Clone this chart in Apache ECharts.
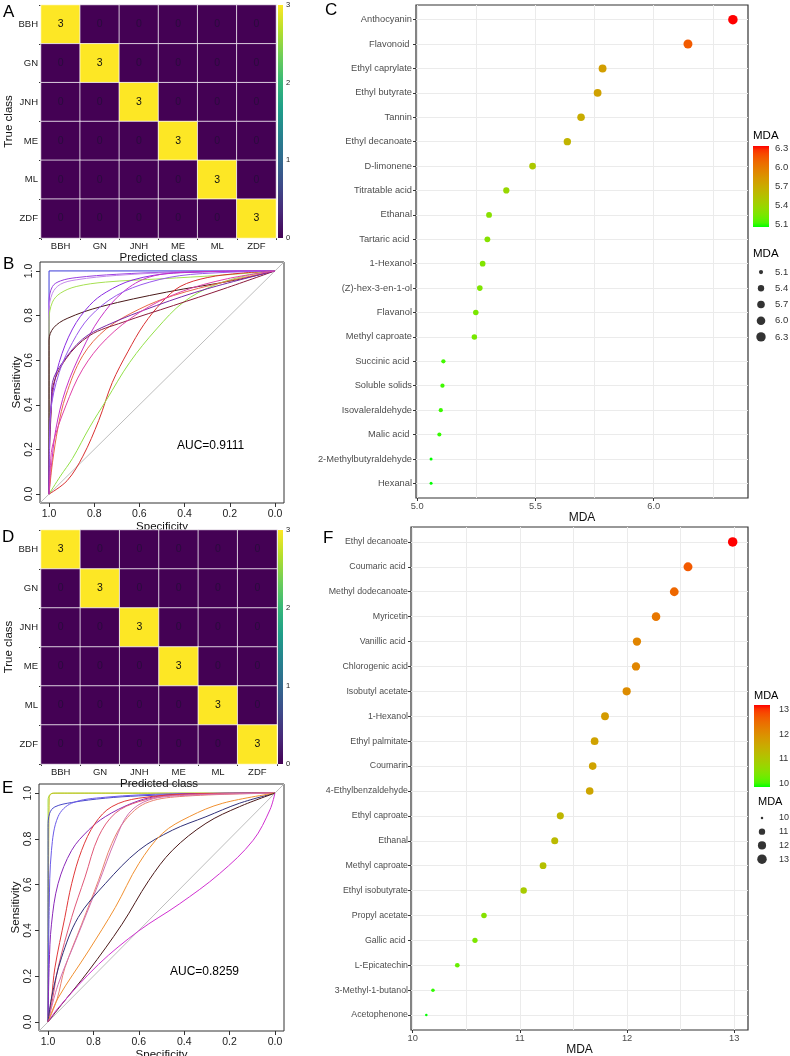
<!DOCTYPE html>
<html><head><meta charset="utf-8">
<script src="https://cdn.jsdelivr.net/npm/echarts@6/dist/echarts.min.js"></script>
<style>html,body{margin:0;padding:0;background:#fff}#c{width:790px;height:1056px}</style>
</head><body><div id="c"></div><script>
// ---------- DATA ----------
const classes = ['BBH','GN','JNH','ME','ML','ZDF'];
const confA = [[3,0,0,0,0,0],[0,3,0,0,0,0],[0,0,3,0,0,0],[0,0,0,3,0,0],[0,0,0,0,3,0],[0,0,0,0,0,3]];
const confD = [[3,0,0,0,0,0],[0,3,0,0,0,0],[0,0,3,0,0,0],[0,0,0,3,0,0],[0,0,0,0,3,0],[0,0,0,0,0,3]];
const heatTicks = [0,1,2,3];
const rocTicks = [0,0.2,0.4,0.6,0.8,1.0];
const aucB = 'AUC=0.9111';
const aucE = 'AUC=0.8259';

// ROC curves, points as [specificity, sensitivity]
const rocB = [
  [[1,0],[1,1],[0,1]],
  [[1,0],[1,0.86],[0.985,0.93],[0.95,0.955],[0.88,0.97],[0.7,0.985],[0.45,0.995],[0,1]],
  [[1,0],[1,0.82],[0.985,0.9],[0.95,0.94],[0.88,0.96],[0.7,0.98],[0.4,0.995],[0,1]],
  [[1,0],[1,0.78],[0.985,0.86],[0.95,0.9],[0.88,0.93],[0.75,0.95],[0.5,0.965],[0.25,0.98],[0,1]],
  [[1,0],[1,0.69],[0.98,0.745],[0.92,0.787],[0.77,0.84],[0.48,0.905],[0.18,0.958],[0,1]],
  [[1,0],[0.995,0.3],[0.985,0.44],[0.955,0.59],[0.896,0.74],[0.821,0.845],[0.747,0.905],[0.628,0.96],[0.449,0.99],[0,1]],
  [[1,0],[0.99,0.12],[0.97,0.29],[0.926,0.47],[0.851,0.65],[0.777,0.785],[0.673,0.905],[0.554,0.973],[0.375,0.995],[0,1]],
  [[1,0],[0.92,0.06],[0.85,0.17],[0.78,0.33],[0.72,0.5],[0.65,0.64],[0.58,0.76],[0.5,0.86],[0.42,0.93],[0.3,0.97],[0.15,0.99],[0,1]],
  [[1,0],[0.95,0.08],[0.896,0.16],[0.82,0.3],[0.747,0.42],[0.643,0.59],[0.524,0.74],[0.405,0.86],[0.271,0.935],[0.122,0.98],[0,1]],
  [[1,0],[0.995,0.05],[0.985,0.14],[0.96,0.3],[0.926,0.44],[0.851,0.62],[0.747,0.74],[0.598,0.83],[0.449,0.89],[0.226,0.95],[0,1]],
  [[1,0],[0.998,0.2],[0.99,0.38],[0.985,0.47],[0.926,0.605],[0.821,0.71],[0.673,0.77],[0.449,0.845],[0.226,0.92],[0,1]],
  [[1,0],[0.998,0.25],[0.99,0.42],[0.985,0.5],[0.94,0.59],[0.851,0.695],[0.747,0.755],[0.524,0.845],[0.3,0.92],[0,1]],
  [[1,0],[0.998,0.2],[0.993,0.365],[0.955,0.545],[0.896,0.68],[0.821,0.793],[0.702,0.89],[0.554,0.95],[0.375,0.984],[0,1]],
  [[1,0],[0.995,0.1],[0.985,0.215],[0.926,0.395],[0.851,0.56],[0.747,0.695],[0.598,0.815],[0.42,0.905],[0.211,0.965],[0,1]]
];
const rocE = [
  [[1,0],[1,0.97],[0.99,0.995],[0.96,1],[0,1]],
  [[1,0],[0.995,0.98],[0.98,1],[0,1]],
  [[1,0],[1,0.85],[0.993,0.912],[0.97,0.94],[0.896,0.959],[0.748,0.978],[0.6,0.988],[0.3,0.998],[0,1]],
  [[1,0],[0.995,0.5],[0.985,0.75],[0.956,0.897],[0.896,0.956],[0.748,0.982],[0.45,0.997],[0,1]],
  [[1,0],[0.995,0.25],[0.985,0.427],[0.956,0.604],[0.896,0.75],[0.822,0.838],[0.748,0.897],[0.63,0.956],[0.526,0.985],[0.35,0.998],[0,1]],
  [[1,0],[0.985,0.1],[0.97,0.236],[0.926,0.457],[0.896,0.604],[0.852,0.75],[0.793,0.868],[0.719,0.941],[0.6,0.978],[0.35,0.997],[0,1]],
  [[1,0],[0.98,0.1],[0.956,0.236],[0.896,0.457],[0.837,0.633],[0.778,0.809],[0.704,0.912],[0.6,0.963],[0.45,0.99],[0,1]],
  [[1,0],[0.96,0.1],[0.926,0.236],[0.852,0.427],[0.778,0.618],[0.719,0.78],[0.659,0.883],[0.57,0.956],[0.422,0.985],[0,1]],
  [[1,0],[0.956,0.163],[0.867,0.383],[0.778,0.604],[0.704,0.795],[0.644,0.912],[0.556,0.97],[0.4,0.99],[0,1]],
  [[1,0],[0.985,0.104],[0.941,0.28],[0.867,0.457],[0.748,0.604],[0.6,0.75],[0.452,0.838],[0.304,0.897],[0.156,0.956],[0,1]],
  [[1,0],[0.956,0.104],[0.822,0.31],[0.704,0.5],[0.6,0.692],[0.496,0.824],[0.378,0.897],[0.23,0.956],[0,1]],
  [[1,0],[0.941,0.075],[0.822,0.222],[0.674,0.427],[0.556,0.618],[0.452,0.75],[0.304,0.868],[0.156,0.941],[0,1]],
  [[1,0],[0.956,0.06],[0.778,0.251],[0.6,0.398],[0.422,0.515],[0.244,0.648],[0.096,0.794],[0.022,0.927],[0,1]]
];

const namesC = ['Anthocyanin','Flavonoid ','Ethyl caprylate','Ethyl butyrate','Tannin','Ethyl decanoate','D-limonene','Titratable acid','Ethanal','Tartaric acid ','1-Hexanol','(Z)-hex-3-en-1-ol','Flavanol','Methyl caproate','Succinic acid ','Soluble solids','Isovaleraldehyde','Malic acid ','2-Methylbutyraldehyde','Hexanal'];
const mdaC = [6.335,6.145,5.784,5.763,5.693,5.635,5.488,5.377,5.304,5.297,5.277,5.265,5.248,5.242,5.111,5.107,5.100,5.094,5.059,5.059];
const xTicksC = [5.0,5.5,6.0];
const gridXC = [5.0,5.25,5.5,5.75,6.0,6.25];
const legendBreaksC = [5.1,5.4,5.7,6.0,6.3];

const namesF = ['Ethyl decanoate','Coumaric acid ','Methyl dodecanoate','Myricetin','Vanillic acid ','Chlorogenic acid','Isobutyl acetate','1-Hexanol','Ethyl palmitate','Coumarin','4-Ethylbenzaldehyde','Ethyl caproate','Ethanal','Methyl caproate','Ethyl isobutyrate','Propyl acetate','Gallic acid ','L-Epicatechin','3-Methyl-1-butanol','Acetophenone'];
const mdaF = [12.985,12.568,12.44,12.27,12.092,12.083,11.996,11.794,11.697,11.679,11.651,11.377,11.325,11.216,11.035,10.665,10.581,10.416,10.189,10.127];
const xTicksF = [10,11,12,13];
const gridXF = [10,10.5,11,11.5,12,12.5,13];
const legendBreaksF = [10,11,12,13];
const cbarRangeF = [9.84,13.2];

// ---------- STYLE HELPERS ----------
const FONT = "'Liberation Sans', Arial, sans-serif";
const viridis = ['#440154','#482878','#3E4A89','#31688E','#26828E','#1F9E89','#35B779','#6DCD59','#B4DE2C','#FDE725'];
const rocColorsB = ['#3a3ad8','#9a40e0','#c488ea','#a6e052','#4a1a1a','#8a2be2','#c832c8','#d83030','#92e048','#e86848','#8b1a3a','#7a2aa8','#9a58ec','#e040a8'];
const rocColorsE = ['#9ee040','#c8c020','#4848c8','#6a5ae8','#8a28b8','#e03838','#e05878','#e88070','#d070b0','#303078','#f09030','#4a1818','#d030d0'];

function lin(c){c/=255;return c<=0.04045?c/12.92:Math.pow((c+0.055)/1.055,2.4);}
function gam(c){c=c<=0.0031308?12.92*c:1.055*Math.pow(c,1/2.4)-0.055;return Math.max(0,Math.min(255,Math.round(c*255)));}
function rgb2lab(r,g,b){r=lin(r);g=lin(g);b=lin(b);
  const X=(0.4124*r+0.3576*g+0.1805*b)/0.95047,Y=0.2126*r+0.7152*g+0.0722*b,Z=(0.0193*r+0.1192*g+0.9505*b)/1.08883;
  const f=t=>t>0.008856?Math.cbrt(t):7.787*t+16/116;
  return [116*f(Y)-16,500*(f(X)-f(Y)),200*(f(Y)-f(Z))];}
function lab2rgb(L,a,b){const fy=(L+16)/116,fx=fy+a/500,fz=fy-b/200;
  const fi=t=>t*t*t>0.008856?t*t*t:(t-16/116)/7.787;
  const X=fi(fx)*0.95047,Y=fi(fy),Z=fi(fz)*1.08883;
  const r=3.2406*X-1.5372*Y-0.4986*Z,g=-0.9689*X+1.8758*Y+0.0415*Z,bb=0.0557*X-0.2040*Y+1.0570*Z;
  return 'rgb('+gam(r)+','+gam(g)+','+gam(bb)+')';}
const labLow = rgb2lab(0,255,0), labHigh = rgb2lab(255,0,0);
function gradColor(t){t=Math.max(0,Math.min(1,t));
  return lab2rgb(labLow[0]+(labHigh[0]-labLow[0])*t,labLow[1]+(labHigh[1]-labLow[1])*t,labLow[2]+(labHigh[2]-labLow[2])*t);}
function gradStops(){const s=[];for(let i=0;i<=20;i++){s.push({offset:i/20,color:gradColor(1-i/20)});}return s;}

// ---------- BUILD ----------
const grids = [
  {left:41,top:5,width:235,height:233},      //0 heat A
  {left:278,top:5,width:5,height:233},       //1 cbar A
  {left:40,top:262,width:244,height:241,show:true,borderColor:'#333',borderWidth:1}, //2 roc B
  {left:416,top:5,width:332,height:493,show:true,borderColor:'#333',borderWidth:1.2},//3 dot C
  {left:753,top:146,width:16,height:81},     //4 cbar C
  {left:753,top:264,width:16,height:81},     //5 size C
  {left:41,top:530,width:236,height:234},    //6 heat D
  {left:278,top:530,width:5,height:234},     //7 cbar D
  {left:39,top:784,width:245,height:247,show:true,borderColor:'#333',borderWidth:1}, //8 roc E
  {left:411,top:527,width:337,height:503,show:true,borderColor:'#333',borderWidth:1.2},//9 dot F
  {left:754,top:705,width:16,height:82},     //10 cbar F
  {left:754,top:811,width:16,height:55}      //11 size F
].map(g=>Object.assign({containLabel:false,outerBoundsMode:'none'},g));

const xAxis=[], yAxis=[], series=[];
const NOLINE = {show:false,onZero:false};

function heatPanel(gi, cgi, conf){
  const xi=xAxis.length, yi=yAxis.length;
  xAxis.push({gridIndex:gi,type:'category',data:classes,axisLine:NOLINE,axisTick:{show:true,length:2,lineStyle:{color:'#333'}},
    axisLabel:{fontSize:9.5,color:'#222',margin:3,fontFamily:FONT},splitLine:{show:false},
    name:'Predicted class',nameLocation:'middle',nameGap:8,nameTextStyle:{fontSize:11.5,color:'#111',fontFamily:FONT}});
  yAxis.push({gridIndex:gi,type:'category',data:classes,inverse:true,axisLine:NOLINE,axisTick:{show:true,length:2,lineStyle:{color:'#333'}},
    axisLabel:{fontSize:9.5,color:'#222',margin:3,fontFamily:FONT},splitLine:{show:false},
    name:'True class',nameLocation:'middle',nameGap:16,nameRotate:90,nameTextStyle:{fontSize:11.5,color:'#111',fontFamily:FONT}});
  const data=[];
  conf.forEach((row,r)=>row.forEach((v,c)=>data.push({value:[c,r,v],label:{color:v>=2?'#111':'#2a0b3d'}})));
  const si=series.length;
  series.push({type:'heatmap',xAxisIndex:xi,yAxisIndex:yi,data,
    itemStyle:{borderColor:'rgba(255,255,255,0.75)',borderWidth:1},
    label:{show:true,formatter:p=>p.value[2],fontSize:10.5,fontFamily:FONT},emphasis:{disabled:true}});
  const cx=xAxis.length, cy=yAxis.length;
  xAxis.push({gridIndex:cgi,type:'category',data:[''],show:false});
  yAxis.push({gridIndex:cgi,type:'value',min:0,max:3,position:'right',axisLine:NOLINE,
    axisTick:{show:true,inside:true,customValues:heatTicks,length:2,lineStyle:{color:'#fff'}},splitLine:{show:false},
    axisLabel:{customValues:heatTicks,fontSize:7.5,color:'#222',margin:3,fontFamily:FONT}});
  series.push({type:'bar',xAxisIndex:cx,yAxisIndex:cy,data:[3],barWidth:'100%',silent:true,
    itemStyle:{color:{type:'linear',x:0,y:0,x2:0,y2:1,colorStops:viridis.slice().reverse().map((c,i,a)=>({offset:i/(a.length-1),color:c}))}}});
  return si;
}

function rocPanel(gi, curves, colors, xGap){
  const xi=xAxis.length, yi=yAxis.length;
  xAxis.push({gridIndex:gi,type:'value',inverse:true,min:-0.04,max:1.04,position:'bottom',axisLine:NOLINE,splitLine:{show:false},
    axisTick:{show:true,customValues:rocTicks,length:4,lineStyle:{color:'#333'}},
    axisLabel:{customValues:rocTicks,formatter:v=>v.toFixed(1),fontSize:10.5,color:'#222',margin:6,fontFamily:FONT},
    name:'Specificity',nameLocation:'middle',nameGap:xGap,nameTextStyle:{fontSize:11.5,color:'#111',fontFamily:FONT}});
  yAxis.push({gridIndex:gi,type:'value',min:-0.04,max:1.04,position:'left',axisLine:NOLINE,splitLine:{show:false},
    axisTick:{show:true,customValues:rocTicks,length:4,lineStyle:{color:'#333'}},
    axisLabel:{customValues:rocTicks,formatter:v=>v.toFixed(1),rotate:90,fontSize:10.5,color:'#222',margin:5,fontFamily:FONT},
    name:'Sensitivity',nameLocation:'middle',nameGap:13,nameRotate:90,nameTextStyle:{fontSize:11.5,color:'#111',fontFamily:FONT}});
  series.push({type:'line',xAxisIndex:xi,yAxisIndex:yi,data:[[1.04,-0.04],[-0.04,1.04]],showSymbol:false,silent:true,
    lineStyle:{color:'#bdbdbd',width:1}});
  curves.forEach((pts,k)=>{
    const straight = pts.length<=3;
    series.push({type:'line',xAxisIndex:xi,yAxisIndex:yi,data:pts,showSymbol:false,silent:true,
      smooth:straight?false:0.35,lineStyle:{color:colors[k],width:1}});
  });
}

function fmtBreaks(arr){const allInt=arr.every(Number.isInteger);return v=>allInt?String(Math.round(v)):v.toFixed(1);}

function dotPanel(gi, cgi, sgi, names, vals, xTicks, gridX, breaks, cbarRange, fs, yMargin, nameGap, sizeMin, sizeSpan, legMargin, legFs){
  const vmin=Math.min(...vals), vmax=Math.max(...vals), span=vmax-vmin;
  const xmin=vmin-0.05*span, xmax=vmax+0.05*span;
  const n=names.length, idx=names.map((_,i)=>i);
  const xi=xAxis.length, yi=yAxis.length;
  const fx=fmtBreaks(xTicks), fb=fmtBreaks(breaks);
  xAxis.push({gridIndex:gi,type:'value',position:'bottom',min:xmin,max:xmax,axisLine:NOLINE,splitLine:{show:false},
    axisTick:{show:true,customValues:xTicks,length:3,lineStyle:{color:'#333'}},
    axisLabel:{customValues:xTicks,formatter:fx,fontSize:9.3,color:'#4d4d4d',margin:4,fontFamily:FONT},
    name:'MDA',nameLocation:'middle',nameGap:nameGap,nameTextStyle:{fontSize:12,color:'#111',fontFamily:FONT}});
  xAxis.push({gridIndex:gi,type:'value',position:'bottom',min:xmin,max:xmax,axisLine:NOLINE,axisLabel:{show:false},
    axisTick:{show:false,customValues:gridX},splitLine:{show:true,lineStyle:{color:'#ebebeb',width:1}}});
  yAxis.push({gridIndex:gi,type:'value',inverse:true,min:-0.6,max:n-1+0.6,position:'left',axisLine:NOLINE,
    axisTick:{show:true,customValues:idx,length:3,lineStyle:{color:'#333'}},
    axisLabel:{customValues:idx,formatter:v=>names[Math.round(v)],fontSize:fs,color:'#4d4d4d',margin:yMargin,fontFamily:FONT},
    splitLine:{show:true,lineStyle:{color:'#ebebeb',width:1}}});
  const sizeOf=v=>{const t=Math.max(0,Math.min(1,(v-vmin)/span));return sizeMin+sizeSpan*Math.sqrt(t);};
  series.push({type:'scatter',xAxisIndex:xi,yAxisIndex:yi,silent:true,z:5,
    data:vals.map((v,i)=>({value:[v,i],symbolSize:sizeOf(v),itemStyle:{color:gradColor((v-vmin)/span),opacity:1}}))});
  // colorbar
  const cmin=cbarRange?cbarRange[0]:vmin, cmax=cbarRange?cbarRange[1]:vmax;
  const cx=xAxis.length, cy=yAxis.length;
  xAxis.push({gridIndex:cgi,type:'category',data:[''],show:false});
  yAxis.push({gridIndex:cgi,type:'value',min:cmin,max:cmax,position:'right',axisLine:NOLINE,splitLine:{show:false},
    axisTick:{show:true,inside:true,customValues:breaks,length:3,lineStyle:{color:'rgba(255,255,255,0.8)'}},
    axisLabel:{customValues:breaks,formatter:fb,fontSize:legFs,color:'#333',margin:legMargin,fontFamily:FONT}});
  series.push({type:'bar',xAxisIndex:cx,yAxisIndex:cy,stack:'cb'+gi,data:[cmin],barWidth:'100%',silent:true,itemStyle:{color:'rgba(0,0,0,0)'}});
  series.push({type:'bar',xAxisIndex:cx,yAxisIndex:cy,stack:'cb'+gi,data:[cmax-cmin],barWidth:'100%',silent:true,
    itemStyle:{color:{type:'linear',x:0,y:0,x2:0,y2:1,colorStops:gradStops()}}});
  // size legend
  const sx=xAxis.length, sy=yAxis.length;
  xAxis.push({gridIndex:sgi,type:'category',data:[''],show:false});
  yAxis.push({gridIndex:sgi,type:'category',inverse:true,position:'right',data:breaks.map(fb),
    axisLine:NOLINE,axisTick:{show:false},splitLine:{show:false},
    axisLabel:{fontSize:legFs,color:'#333',margin:legMargin,fontFamily:FONT}});
  series.push({type:'scatter',xAxisIndex:sx,yAxisIndex:sy,silent:true,
    data:breaks.map((b,i)=>({value:[0,i],symbolSize:sizeOf(b)})),itemStyle:{color:'#000'}});
}

const hA = heatPanel(0,1,confA);
rocPanel(2, rocB, rocColorsB, 13);
dotPanel(3,4,5,namesC,mdaC,xTicksC,gridXC,legendBreaksC,null,9.3,4,10,3,6.5,6,9.5);
const hD = heatPanel(6,7,confD);
rocPanel(8, rocE, rocColorsE, 12);
dotPanel(9,10,11,namesF,mdaF,xTicksF,gridXF,legendBreaksF,cbarRangeF,8.8,3,13,2.5,7,9,9);

function txt(text,left,top,size){return {type:'text',left,top,silent:true,style:{text,fontSize:size,fontFamily:FONT,fill:'#000'}};}
const graphic = [
  txt('A',3,4,17), txt('B',3,256,17), txt('C',325,2,17),
  txt('D',2,529,17), txt('E',2,780,17), txt('F',323,530,17),
  txt(aucB,177,440,12), txt(aucE,170,966,12),
  txt('MDA',753,130,11.5), txt('MDA',753,248,11.5),
  txt('MDA',754,690,11), txt('MDA',758,796,11)
];

const chart = echarts.init(document.getElementById('c'), null, {renderer:'canvas'});
chart.setOption({
  animation:false,
  textStyle:{fontFamily:FONT},
  grid:grids, xAxis, yAxis, series, graphic,
  visualMap:[{type:'continuous',min:0,max:3,show:false,seriesIndex:[hA,hD],inRange:{color:viridis}}]
});
</script></body></html>
